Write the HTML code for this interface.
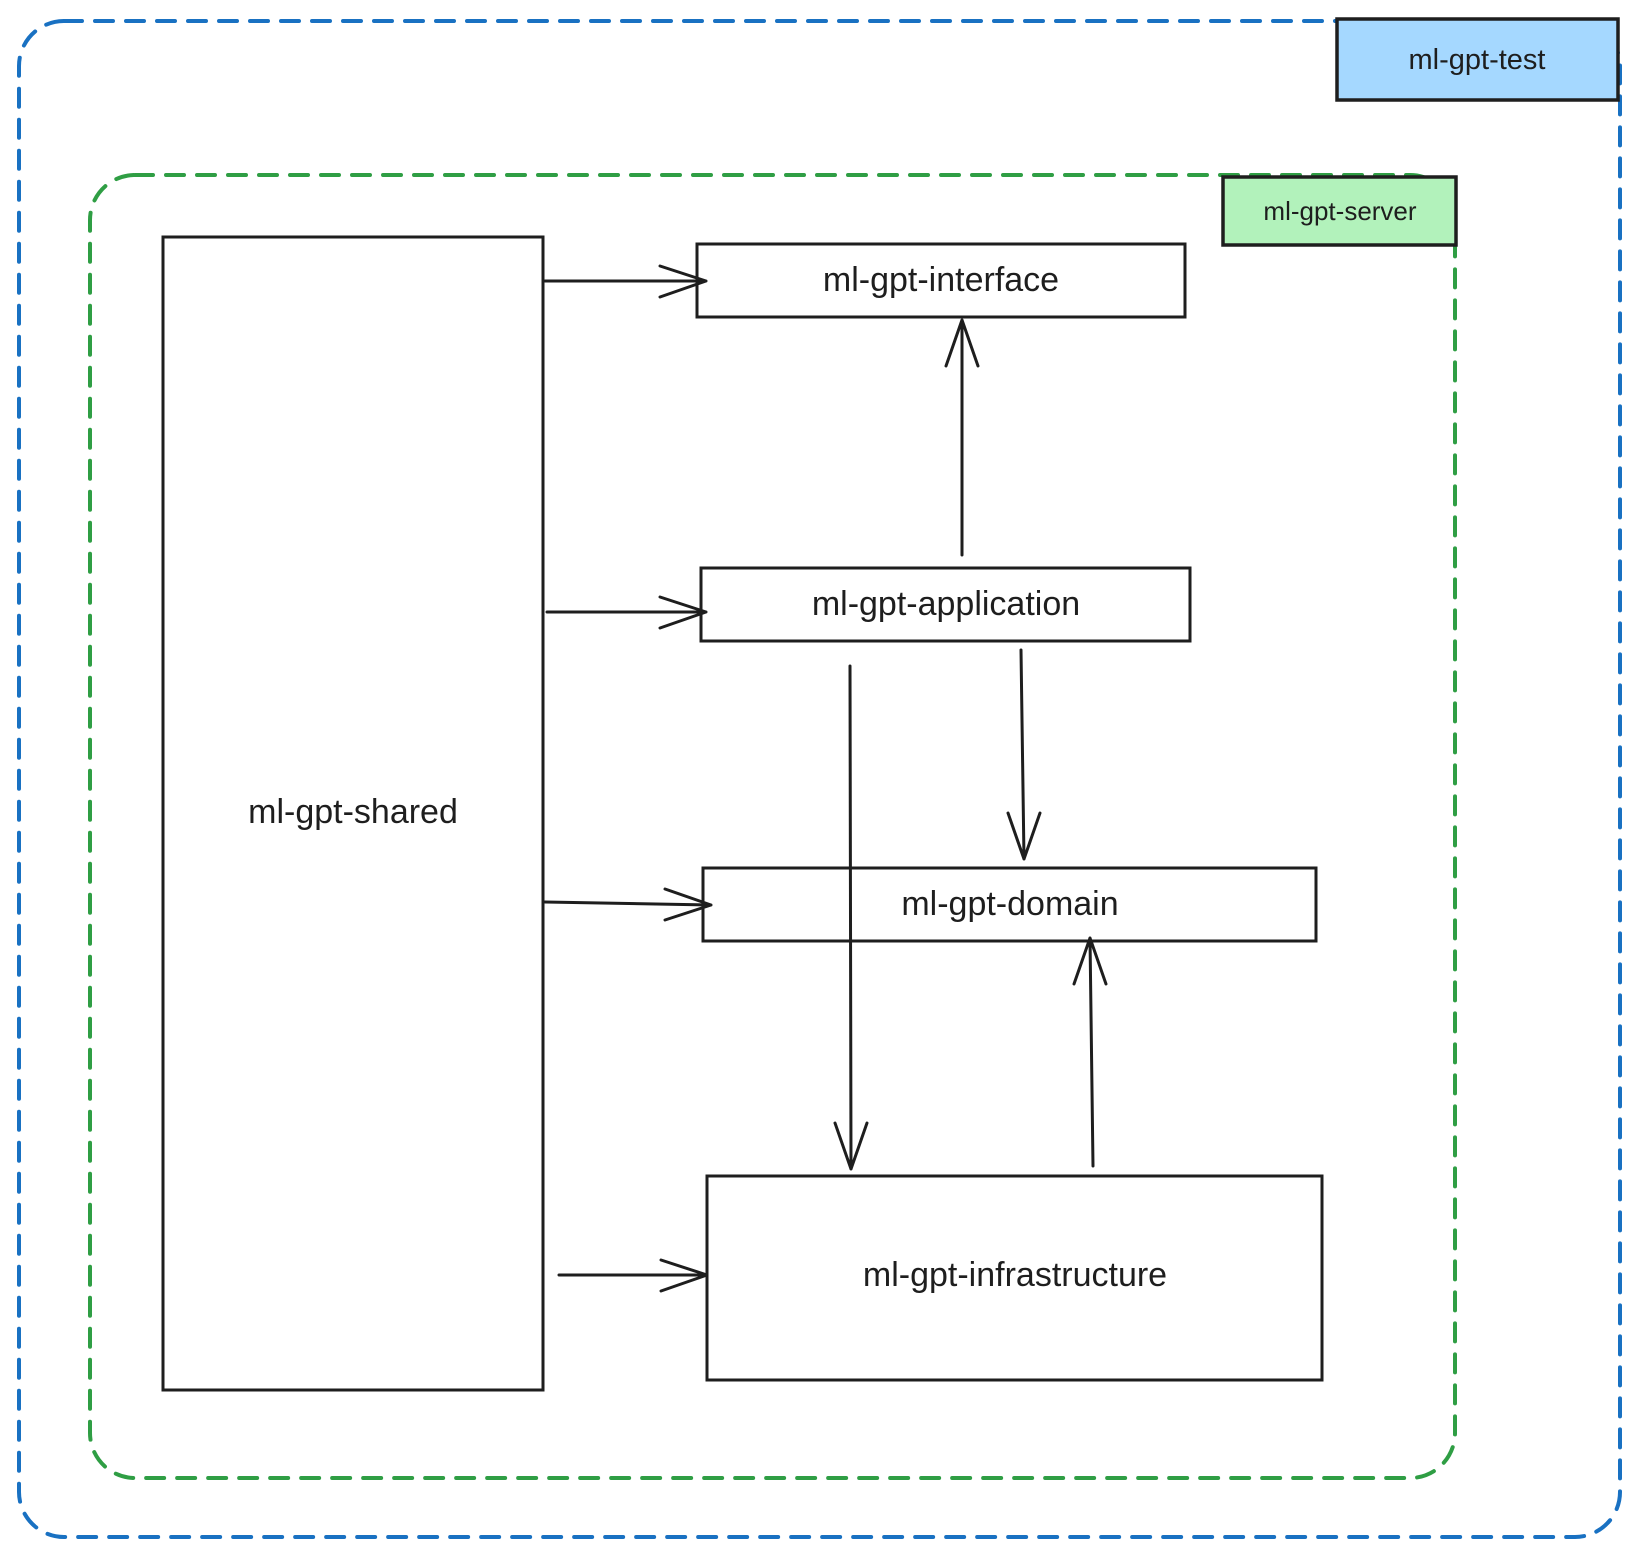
<!DOCTYPE html>
<html><head><meta charset="utf-8"><style>html,body{margin:0;padding:0;background:#fff}svg{display:block}text{font-family:"Liberation Sans",sans-serif;fill:#1e1e1e;text-anchor:middle;dominant-baseline:central}</style></head>
<body>
<svg width="1639" height="1556" viewBox="0 0 1639 1556" xmlns="http://www.w3.org/2000/svg">
<rect x="19" y="21" width="1601" height="1516" rx="45" fill="none" stroke="#1971c2" stroke-width="4" stroke-dasharray="18 13" stroke-linecap="round"/>
<rect x="90" y="175" width="1365" height="1303" rx="45" fill="none" stroke="#2f9e44" stroke-width="4" stroke-dasharray="18 13" stroke-linecap="round"/>
<rect x="1337" y="19" width="281" height="81" fill="#a5d8ff" stroke="#1e1e1e" stroke-width="3.5"/>
<text x="1477" y="60" font-size="29">ml-gpt-test</text>
<rect x="1223" y="177" width="233" height="68" fill="#b2f2bb" stroke="#1e1e1e" stroke-width="3.5"/>
<text x="1340" y="211" font-size="26">ml-gpt-server</text>
<g fill="#fff" stroke="#1e1e1e" stroke-width="3">
<rect x="163" y="237" width="380" height="1153"/>
<rect x="697" y="244" width="488" height="73"/>
<rect x="701" y="568" width="489" height="73"/>
<rect x="703" y="868" width="613" height="73"/>
<rect x="707" y="1176" width="615" height="204"/>
</g>
<text x="353" y="812" font-size="34">ml-gpt-shared</text>
<text x="941" y="280" font-size="34">ml-gpt-interface</text>
<text x="946" y="604" font-size="34">ml-gpt-application</text>
<text x="1010" y="904" font-size="34">ml-gpt-domain</text>
<text x="1015" y="1275" font-size="34">ml-gpt-infrastructure</text>
<g fill="none" stroke="#1e1e1e" stroke-width="3" stroke-linecap="round" stroke-linejoin="round">
<path d="M545 281 L706 281 M660 266 L706 281 L660 297"/>
<path d="M547 612 L706 612 M660 597 L706 612 L660 628"/>
<path d="M545 902 L711 905 M665 889 L711 905 L665 920"/>
<path d="M559 1275 L707 1275 M661 1260 L707 1275 L661 1291"/>
<path d="M962 555 L962 320 M946 366 L962 320 L978 366"/>
<path d="M1021 650 L1024 859 M1008 813 L1024 859 L1040 813"/>
<path d="M850 666 L851 1169 M835 1123 L851 1169 L867 1123"/>
<path d="M1093 1166 L1090 938 M1074 984 L1090 938 L1106 984"/>
</g>
</svg>
</body></html>
